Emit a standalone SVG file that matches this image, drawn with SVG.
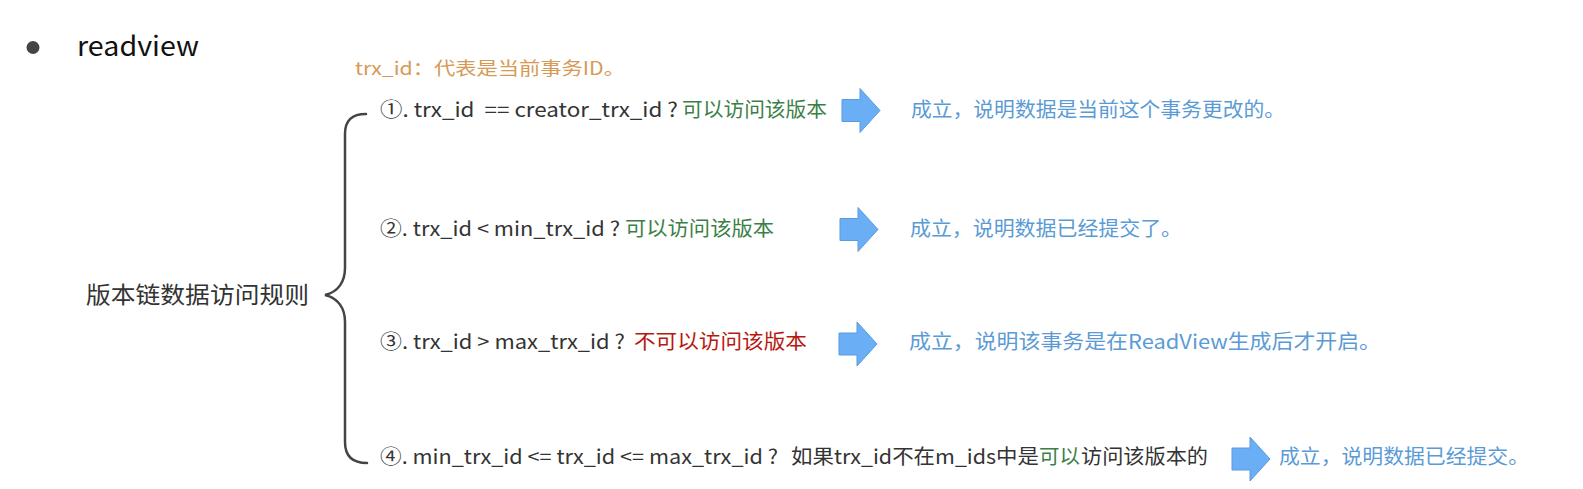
<svg xmlns="http://www.w3.org/2000/svg" width="1583" height="489" viewBox="0 0 1583 489">
<style>
text{font-family:"Noto Sans CJK SC","Liberation Sans",sans-serif;white-space:pre}
.t{font-size:20px;fill:#333333}
.g{font-size:20px;fill:#3b7f47}
.r{font-size:20px;fill:#b8180e}
.b{font-size:20px;fill:#5b9bd5}
.o{font-size:18px;fill:#d69a55}
.brace{fill:none;stroke:#444444;stroke-width:2.5;stroke-linecap:round}
.arrow{fill:#6aaef5;stroke:#5a9ae0;stroke-width:1}
</style>
<defs>
<path id="arr" d="M0,-11 L18,-11 L18,-22 L38,0 L18,22 L18,11 L0,11 Z"/>
</defs>
<rect width="1583" height="489" fill="#ffffff"/>
<g id="title">
<circle cx="33" cy="47.5" r="6.5" fill="#444444"/>
<text x="77" y="56" style="font-size:27px;fill:#111111" textLength="122" lengthAdjust="spacingAndGlyphs">readview</text>
</g>
<g id="note">
<text class="o" x="355" y="75" textLength="270" lengthAdjust="spacingAndGlyphs">trx_id：代表是当前事务ID。</text>
</g>
<g id="root">
<text x="86" y="303" style="font-size:23px;fill:#333333" textLength="223" lengthAdjust="spacingAndGlyphs">版本链数据访问规则</text>
</g>
<g id="connectors">
<path class="brace" d="M366,114 C352,114 345,120 345,134 L345,268 C345,282 338,292 325,295 C338,298 345,308 345,322 L345,442 C345,456 352,463 367,463"/>
<use href="#arr" class="arrow" x="842" y="110.5"/>
<use href="#arr" class="arrow" x="840" y="229.5"/>
<use href="#arr" class="arrow" x="839" y="344"/>
<use href="#arr" class="arrow" x="1232" y="459"/>
</g>
<g id="rule1">
<text class="t" x="380" y="117" textLength="298" lengthAdjust="spacingAndGlyphs">①. trx_id  == creator_trx_id ?</text>
<text class="g" x="682" y="117" textLength="145" lengthAdjust="spacingAndGlyphs">可以访问该版本</text>
</g>
<g id="result1">
<text class="b" x="911" y="117" textLength="374" lengthAdjust="spacingAndGlyphs">成立，说明数据是当前这个事务更改的。</text>
</g>
<g id="rule2">
<text class="t" x="380" y="236" textLength="240" lengthAdjust="spacingAndGlyphs">②. trx_id &lt; min_trx_id ?</text>
<text class="g" x="625" y="236" textLength="149" lengthAdjust="spacingAndGlyphs">可以访问该版本</text>
</g>
<g id="result2">
<text class="b" x="910" y="236" textLength="272" lengthAdjust="spacingAndGlyphs">成立，说明数据已经提交了。</text>
</g>
<g id="rule3">
<text class="t" x="380" y="349" textLength="245" lengthAdjust="spacingAndGlyphs">③. trx_id &gt; max_trx_id ?</text>
<text class="r" x="634" y="349" textLength="173" lengthAdjust="spacingAndGlyphs">不可以访问该版本</text>
</g>
<g id="result3">
<text class="b" x="909" y="349" textLength="472" lengthAdjust="spacingAndGlyphs">成立，说明该事务是在ReadView生成后才开启。</text>
</g>
<g id="rule4">
<text class="t" x="380" y="464" textLength="398" lengthAdjust="spacingAndGlyphs">④. min_trx_id &lt;= trx_id &lt;= max_trx_id ?</text>
<text class="t" x="791" y="464" textLength="248" lengthAdjust="spacingAndGlyphs">如果trx_id不在m_ids中是</text>
<text class="g" x="1039" y="464" textLength="41" lengthAdjust="spacingAndGlyphs">可以</text>
<text class="t" x="1081" y="464" textLength="127" lengthAdjust="spacingAndGlyphs">访问该版本的</text>
</g>
<g id="result4">
<text class="b" x="1279" y="464" textLength="250" lengthAdjust="spacingAndGlyphs">成立，说明数据已经提交。</text>
</g>
</svg>
